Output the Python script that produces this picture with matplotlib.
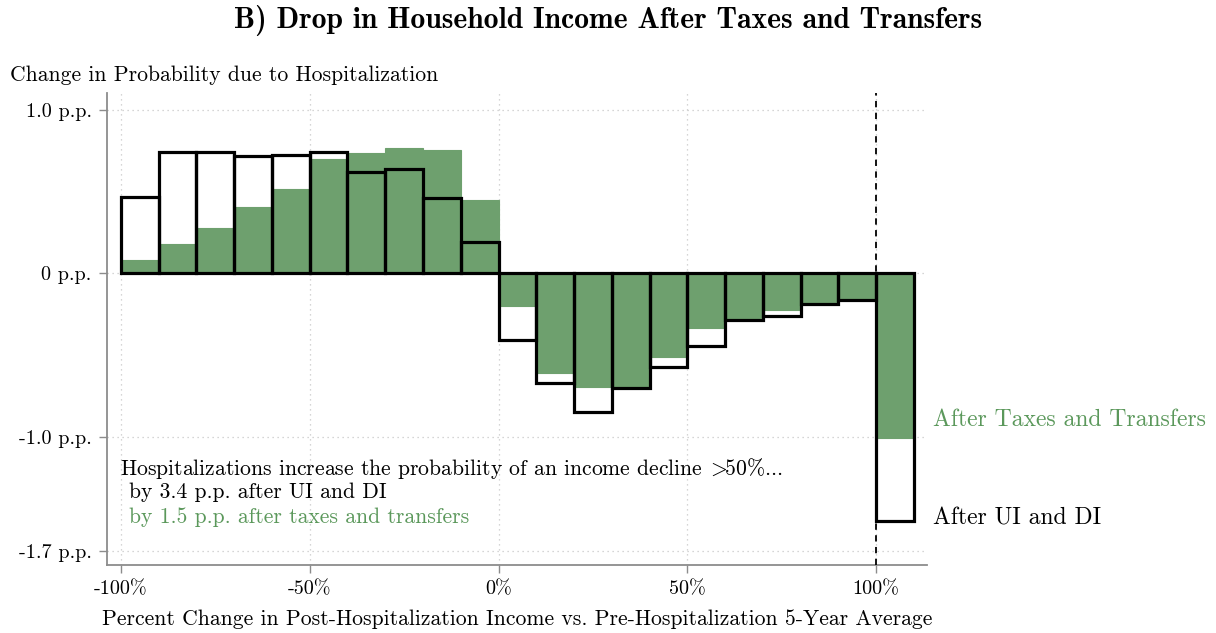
import matplotlib
matplotlib.use("Agg")
import matplotlib.pyplot as plt
import numpy as np

plt.rcParams['font.family'] = ['cmr10', 'DejaVu Serif']
plt.rcParams['mathtext.fontset'] = 'cm'
plt.rcParams['axes.unicode_minus'] = False

# Data
bin_left = [-100, -90, -80, -70, -60, -50, -40, -30, -20, -10,
            0, 10, 20, 30, 40, 50, 60, 70, 80, 90, 100]
after_taxes = [0.081, 0.178, 0.275, 0.404, 0.516, 0.698, 0.739, 0.769, 0.755, 0.451,
               -0.198, -0.612, -0.696, -0.70, -0.512, -0.333, -0.28, -0.225, -0.184, -0.149, -1.006]
after_ui_di = [0.465, 0.743, 0.743, 0.716, 0.724, 0.741, 0.620, 0.641, 0.461, 0.192,
               -0.408, -0.674, -0.847, -0.702, -0.574, -0.443, -0.286, -0.261, -0.186, -0.163, -1.515]
xticks = [-100, -50, 0, 50, 100]
xticklabels = ['-100%', '-50%', '0%', '50%', '100%']
yticks = [1.0, 0.0, -1.0, -1.7]
yticklabels = ['1.0 p.p.', '0 p.p.', '-1.0 p.p.', '-1.7 p.p.']

green = '#6ea06e'
green_text = '#5b985b'
spine_gray = '#8c8c8c'

fig = plt.figure(figsize=(12.16, 6.33), dpi=100)
ax = fig.add_axes([107/1216, 68/633, (927-107)/1216, (565-93)/633])

ax.set_xlim(-103.7, 113.5)
ax.set_ylim(-1.786, 1.104)

for x in xticks:
    ax.axvline(x, color='#c8c8c8', lw=0.9, ls=(0, (1, 3)), zorder=0)
for y in yticks:
    ax.axhline(y, color='#c8c8c8', lw=0.9, ls=(0, (1, 3)), zorder=0)

ax.bar(bin_left, after_taxes, width=10, align='edge', color=green,
       edgecolor=green, lw=0.8, zorder=2)
ax.bar(bin_left, after_ui_di, width=10, align='edge', fill=False,
       edgecolor='black', lw=2.3, zorder=3)

ax.axvline(100, color='black', lw=1.3, ls=(0, (3.5, 3)), zorder=4)

for s in ['top', 'right']:
    ax.spines[s].set_visible(False)
for s in ['left', 'bottom']:
    ax.spines[s].set_color(spine_gray)
    ax.spines[s].set_linewidth(1.3)

ax.set_xticks(xticks)
ax.set_xticklabels(xticklabels, fontsize=14.5)
ax.set_yticks(yticks)
ax.set_yticklabels(yticklabels, fontsize=14.5)
ax.tick_params(axis='both', color=spine_gray, length=6, width=1.0, pad=5)

ax.set_xlabel('Percent Change in Post-Hospitalization Income vs. Pre-Hospitalization 5-Year Average',
              fontsize=15.6, labelpad=8)

fig.text(10/1216, 1 - 75/633, 'Change in Probability due to Hospitalization',
         fontsize=15.6, ha='left', va='center')
fig.text(0.5, 1 - 20/633, 'B) Drop in Household Income After Taxes and Transfers',
         fontsize=21.3, ha='center', va='center', family=['cmb10', 'DejaVu Serif'])

ax.text(-100.2, -1.195, r'Hospitalizations increase the probability of an income decline$\;>\!\!$50%...',
        fontsize=15.6, ha='left', va='center')
ax.text(-98, -1.343, 'by 3.4 p.p. after UI and DI', fontsize=15.6, ha='left', va='center')
ax.text(-98, -1.495, 'by 1.5 p.p. after taxes and transfers', fontsize=15.6, ha='left',
        va='center', color=green_text)

ax.text(115.1, -0.9, 'After Taxes and Transfers', fontsize=17, ha='left', va='center',
        color=green_text, clip_on=False)
ax.text(115.1, -1.5, 'After UI and DI', fontsize=17, ha='left', va='center',
        color='black', clip_on=False)

fig.savefig('out.png', dpi=100)
